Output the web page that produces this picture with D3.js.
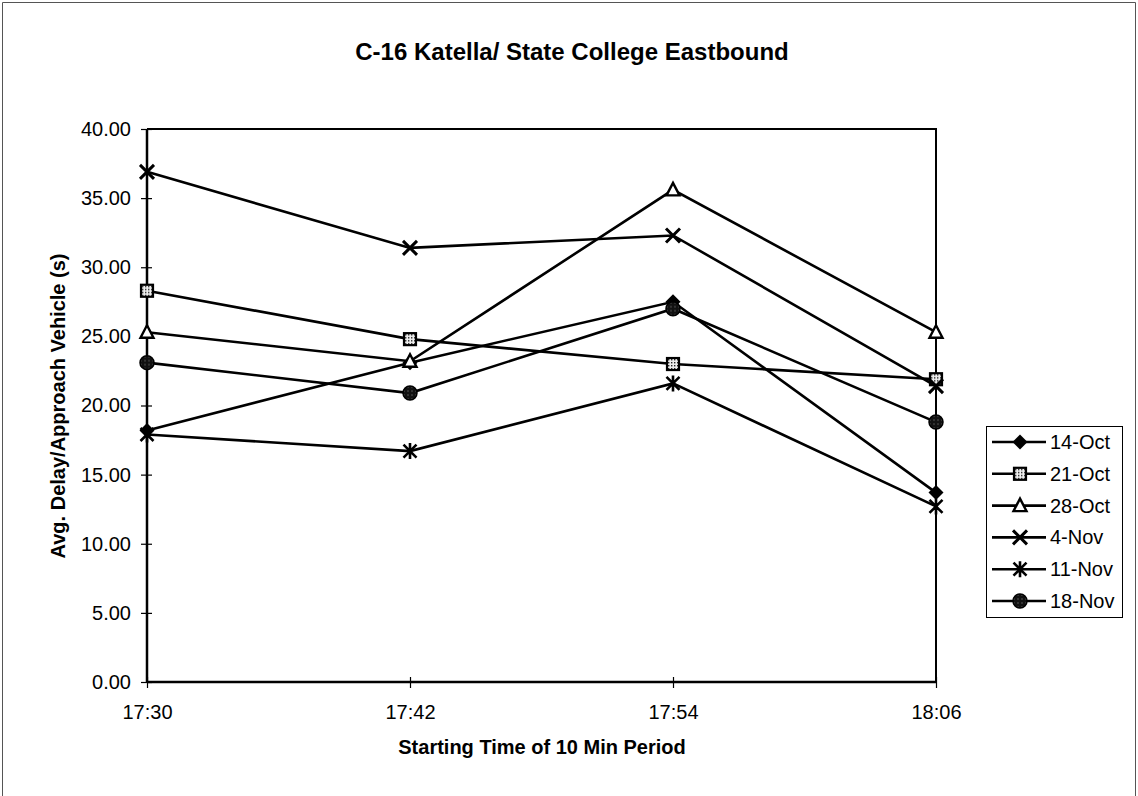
<!DOCTYPE html>
<html>
<head>
<meta charset="utf-8">
<script src="https://cdn.jsdelivr.net/npm/d3@7"></script>
<style>
  html, body { margin: 0; padding: 0; background: #fff; }
  svg { display: block; font-family: "Liberation Sans", Arial, sans-serif; }
</style>
</head>
<body>
<svg id="chart" width="1138" height="796"></svg>
<script>
// ---- data ----
const categories = ["17:30", "17:42", "17:54", "18:06"];
const seriesNames = ["14-Oct", "21-Oct", "28-Oct", "4-Nov", "11-Nov", "18-Nov"];
const oct14 = [18.2, 23.1, 27.5, 13.7];
const oct21 = [28.3, 24.8, 23.0, 21.9];
const oct28 = [25.3, 23.2, 35.6, 25.3];
const nov4  = [36.9, 31.4, 32.3, 21.4];
const nov11 = [17.9, 16.7, 21.6, 12.7];
const nov18 = [23.1, 20.9, 27.0, 18.8];
const yTicks = [0, 5, 10, 15, 20, 25, 30, 35, 40];
const titleText = "C-16 Katella/ State College Eastbound";
const xTitleText = "Starting Time of 10 Min Period";
const yTitleText = "Avg. Delay/Approach Vehicle (s)";

const seriesValues = [oct14, oct21, oct28, nov4, nov11, nov18];
const markerTypes = ["diamond", "square", "triangle", "x", "asterisk", "circle"];

// ---- layout ----
const W = 1138, H = 796;
const plot = { left: 147, right: 936, top: 129, bottom: 682 };

const svg = d3.select("#chart");

// patterns
const defs = svg.append("defs");
const pSq = defs.append("pattern").attr("id", "patSq").attr("patternUnits", "userSpaceOnUse")
  .attr("width", 3).attr("height", 3);
pSq.append("rect").attr("width", 3).attr("height", 3).attr("fill", "#eee");
pSq.append("rect").attr("x", 1).attr("y", 1).attr("width", 1.4).attr("height", 1.4).attr("fill", "#222");
const pCi = defs.append("pattern").attr("id", "patCi").attr("patternUnits", "userSpaceOnUse")
  .attr("width", 4).attr("height", 4);
pCi.append("rect").attr("width", 4).attr("height", 4).attr("fill", "#111");
pCi.append("rect").attr("x", 1.5).attr("y", 1.5).attr("width", 1).attr("height", 1).attr("fill", "#999");

// outer frame
svg.append("path")
  .attr("d", `M2.5,${H + 5} L2.5,2.5 L1135.5,2.5 L1135.5,${H + 5}`)
  .attr("fill", "none").attr("stroke", "#555").attr("stroke-width", 1);

// scales
const x = d3.scalePoint().domain(categories).range([plot.left, plot.right]);
const y = d3.scaleLinear().domain([0, 40]).range([plot.bottom, plot.top]);

// plot frame (top & right)
svg.append("path")
  .attr("d", `M${plot.left},${plot.top} L${plot.right},${plot.top} L${plot.right},${plot.bottom}`)
  .attr("fill", "none").attr("stroke", "#000").attr("stroke-width", 2);

// y axis
const yAxis = svg.append("g").attr("transform", `translate(${plot.left},0)`)
  .call(d3.axisLeft(y).tickValues(yTicks).tickFormat(d3.format(".2f")).tickSize(6).tickPadding(10));
yAxis.select(".domain").attr("stroke-width", 2.5).attr("d", `M0,${plot.top}V${plot.bottom}`);
yAxis.selectAll(".tick line").attr("x1", 5).attr("stroke-width", 1.2);
yAxis.selectAll(".tick text").attr("font-size", 20).attr("fill", "#000")
  .attr("font-family", "Liberation Sans, Arial, sans-serif");

// x axis
const xAxis = svg.append("g").attr("transform", `translate(0,${plot.bottom})`)
  .call(d3.axisBottom(x).tickSize(6).tickPadding(17));
xAxis.select(".domain").attr("stroke-width", 2.5).attr("d", `M${plot.left},0H${plot.right}`);
xAxis.selectAll(".tick line").attr("y1", -5).attr("stroke-width", 1.2);
xAxis.selectAll(".tick text").attr("font-size", 20).attr("fill", "#000")
  .attr("font-family", "Liberation Sans, Arial, sans-serif");

// titles
svg.append("text").attr("x", 572).attr("y", 60).attr("text-anchor", "middle")
  .attr("font-size", 24).attr("font-weight", "bold").text(titleText);
svg.append("text").attr("x", 542).attr("y", 754).attr("text-anchor", "middle")
  .attr("font-size", 20).attr("font-weight", "bold").text(xTitleText);
svg.append("text").attr("transform", "translate(65,406) rotate(-90)").attr("text-anchor", "middle")
  .attr("font-size", 20).attr("font-weight", "bold").text(yTitleText);

// marker drawing
function drawMarker(g, type) {
  switch (type) {
    case "diamond":
      g.append("path").attr("d", "M0,-7.5L7.5,0L0,7.5L-7.5,0Z").attr("fill", "#000");
      break;
    case "square":
      g.append("rect").attr("x", -6).attr("y", -6).attr("width", 12).attr("height", 12)
        .attr("fill", "url(#patSq)").attr("stroke", "#000").attr("stroke-width", 2.2);
      break;
    case "triangle":
      g.append("path").attr("d", "M0,-7L6.5,5.5L-6.5,5.5Z")
        .attr("fill", "#fff").attr("stroke", "#000").attr("stroke-width", 2.4).attr("stroke-linejoin", "miter");
      break;
    case "x":
      g.append("path").attr("d", "M-7,-7L7,7M-7,7L7,-7").attr("stroke", "#000").attr("stroke-width", 3);
      break;
    case "asterisk":
      g.append("path").attr("d", "M-6.5,-6.5L6.5,6.5M-6.5,6.5L6.5,-6.5M0,-8L0,8")
        .attr("stroke", "#000").attr("stroke-width", 2.6);
      break;
    case "circle":
      g.append("circle").attr("r", 7).attr("fill", "url(#patCi)").attr("stroke", "#000").attr("stroke-width", 1.5);
      break;
  }
}

// series
const line = d3.line().x((d, i) => x(categories[i])).y(d => y(d));
seriesValues.forEach((vals, si) => {
  svg.append("path").datum(vals).attr("d", line)
    .attr("fill", "none").attr("stroke", "#000").attr("stroke-width", 2.6);
  vals.forEach((v, i) => {
    const g = svg.append("g").attr("transform", `translate(${x(categories[i])},${y(v)})`);
    drawMarker(g, markerTypes[si]);
  });
});

// legend
const lg = { x: 986, y: 426, w: 136, h: 191, first: 442, step: 31.8 };
svg.append("rect").attr("x", lg.x + 0.5).attr("y", lg.y + 0.5).attr("width", lg.w).attr("height", lg.h)
  .attr("fill", "#fff").attr("stroke", "#000").attr("stroke-width", 1);
seriesNames.forEach((name, si) => {
  const cy = lg.first + si * lg.step;
  svg.append("line").attr("x1", 992).attr("x2", 1046).attr("y1", cy).attr("y2", cy)
    .attr("stroke", "#000").attr("stroke-width", 2.6);
  const g = svg.append("g").attr("transform", `translate(1020,${cy})`);
  drawMarker(g, markerTypes[si]);
  svg.append("text").attr("x", 1050).attr("y", cy).attr("dy", "0.35em")
    .attr("font-size", 20).text(name);
});
</script>
</body>
</html>
